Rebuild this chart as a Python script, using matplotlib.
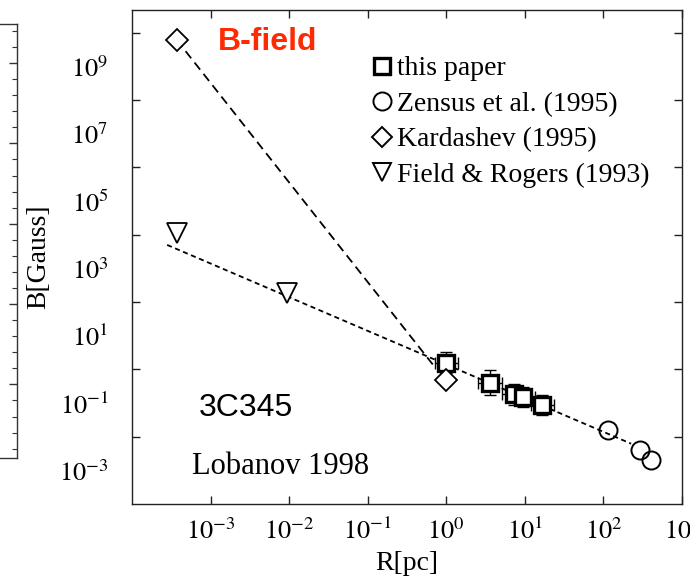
import matplotlib
matplotlib.use("Agg")
import numpy as np
import matplotlib.pyplot as plt
from matplotlib.lines import Line2D
from matplotlib.ticker import FixedLocator, NullFormatter, FixedFormatter

plt.rcParams["font.family"] = ["Liberation Serif", "DejaVu Serif"]
plt.rcParams["mathtext.fontset"] = "stix"

# --- values ---
paper_R = [1.0, 3.6, 7.2, 9.6, 16.7]
paper_B = [1.6, 0.40, 0.18, 0.155, 0.089]
paper_dR_dex = [0.15, 0.15, 0.15, 0.15, 0.15]
paper_dB_dex = [0.30, 0.37, 0.30, 0.30, 0.30]

zensus_R = [116, 290, 400]
zensus_B = [0.016, 0.0041, 0.0021]

kard_R = [3.7e-4, 1.0]
kard_B = [6.2e9, 0.49]

field_R = [3.7e-4, 9.5e-3]
field_B = [1.15e4, 190]

# fitted lines
kard_fit_R = [3.7e-4, 0.73]
kard_fit_B = [6.2e9, 1.1]
field_fit_R = [2.8e-4, 225]
field_fit_B = [5.0e3, 0.0062]

x_tick_exps = [-3, -2, -1, 0, 1, 2, 3]
y_tick_exps = [10, 8, 6, 4, 2, 0, -2]
y_label_exps = [9, 7, 5, 3, 1, -1, -3]

legend_labels = ["this paper", "Zensus et al. (1995)", "Kardashev (1995)",
                 "Field & Rogers (1993)"]

W, H = 690, 585
fig = plt.figure(figsize=(W / 100, H / 100), dpi=100)

# --- partial neighbouring panel at the left edge ---
axl = fig.add_axes([-0.5, (H - 458) / H, 0.5 + 17 / W, (458 - 24) / H])
axl.set_xlim(0, 1)
axl.set_ylim(0.42, 27.43)
axl.set_xticks([])
axl.yaxis.tick_right()
axl.yaxis.set_major_locator(FixedLocator([5, 10, 15, 20, 25]))
axl.yaxis.set_minor_locator(FixedLocator(np.arange(1, 28)))
axl.yaxis.set_major_formatter(NullFormatter())
axl.tick_params(axis="y", which="major", direction="in", length=6, width=1, color="#333333")
axl.tick_params(axis="y", which="minor", direction="in", length=3.5, width=0.8, color="#333333")
for s in axl.spines.values():
    s.set_color("#333333")
    s.set_linewidth(1.0)

# --- main panel ---
ax = fig.add_axes([132 / W, (H - 504) / H, 550 / W, 494 / H])
ax.set_xscale("log")
ax.set_yscale("log")
ax.set_xlim(1e-4, 1e3)
ax.set_ylim(1e-4, 10 ** 10.68)

ax.plot(kard_fit_R, kard_fit_B, color="black", lw=1.3, dashes=(5, 3))
ax.plot(field_fit_R, field_fit_B, color="black", lw=1.3, dashes=(2.8, 2.0))

R = np.array(paper_R)
B = np.array(paper_B)
dR = np.array(paper_dR_dex)
dB = np.array(paper_dB_dex)
xerr = [R - R * 10 ** -dR, R * 10 ** dR - R]
yerr = [B - B * 10 ** -dB, B * 10 ** dB - B]
ax.errorbar(R, B, xerr=xerr, yerr=yerr, fmt="none", ecolor="black",
            elinewidth=1.0, capsize=4.5, capthick=1.0, zorder=3)
ax.plot(R, B, "s", ms=11, mfc="white", mec="black", mew=2.4, zorder=4)

ax.plot(zensus_R, zensus_B, "o", ms=13, mfc="none", mec="black", mew=1.4, zorder=4)
ax.plot(kard_R, kard_B, "D", ms=11.5, mfc="white", mec="black", mew=1.3, zorder=4)
ax.plot(field_R, field_B, "v", ms=14, mfc="white", mec="black", mew=1.3, zorder=4)

ax.xaxis.set_major_locator(FixedLocator([10.0 ** e for e in x_tick_exps]))
ax.xaxis.set_major_formatter(FixedFormatter([f"$10^{{{e}}}$" for e in x_tick_exps]))
ax.xaxis.set_minor_locator(FixedLocator([]))
ax.yaxis.set_major_locator(FixedLocator([10.0 ** e for e in y_tick_exps]))
ax.yaxis.set_major_formatter(NullFormatter())
ax.yaxis.set_minor_locator(FixedLocator([10.0 ** e for e in y_label_exps]))
ax.yaxis.set_minor_formatter(FixedFormatter([f"$10^{{{e}}}$" for e in y_label_exps]))

ax.tick_params(which="major", direction="in", length=6, width=1, color="#222222",
               top=True, right=True, labelsize=19)
ax.tick_params(axis="x", which="major", pad=10)
ax.tick_params(axis="y", which="minor", length=0, labelsize=19, pad=17)
for s in ax.spines.values():
    s.set_color("#222222")
    s.set_linewidth(1.0)

ax.set_xlabel("R[pc]", fontsize=20, va="center")
ax.xaxis.set_label_coords(0.5, (504 - 563) / 494)
ax.set_ylabel("B[Gauss]", fontsize=20, va="center")
ax.yaxis.set_label_coords((39 - 132) / 550, 0.5)

handles = [
    Line2D([], [], marker="s", ls="none", ms=11, mfc="white", mec="black", mew=2.4),
    Line2D([], [], marker="o", ls="none", ms=13, mfc="none", mec="black", mew=1.4),
    Line2D([], [], marker="D", ls="none", ms=10, mfc="none", mec="black", mew=1.4),
    Line2D([], [], marker="v", ls="none", ms=13, mfc="none", mec="black", mew=1.4),
]
fig.legend(handles, legend_labels, loc="upper left",
           bbox_to_anchor=(371 / W, 1 - 56 / H), frameon=False, fontsize=20,
           handlelength=0.8, handletextpad=0.15, labelspacing=0.36, borderpad=0,
           borderaxespad=0)

fig.text(218 / W, 1 - 42 / H, "B-field", color="#ff2a00", fontsize=23,
         fontweight="bold", family=["Liberation Sans", "DejaVu Sans"], va="center")
fig.text(199 / W, 1 - 408 / H, "3C345", fontsize=23,
         family=["Liberation Sans", "DejaVu Sans"], va="center")
fig.text(192 / W, 1 - 467 / H, "Lobanov 1998", fontsize=22, va="center")

fig.savefig("out.png", dpi=100)
